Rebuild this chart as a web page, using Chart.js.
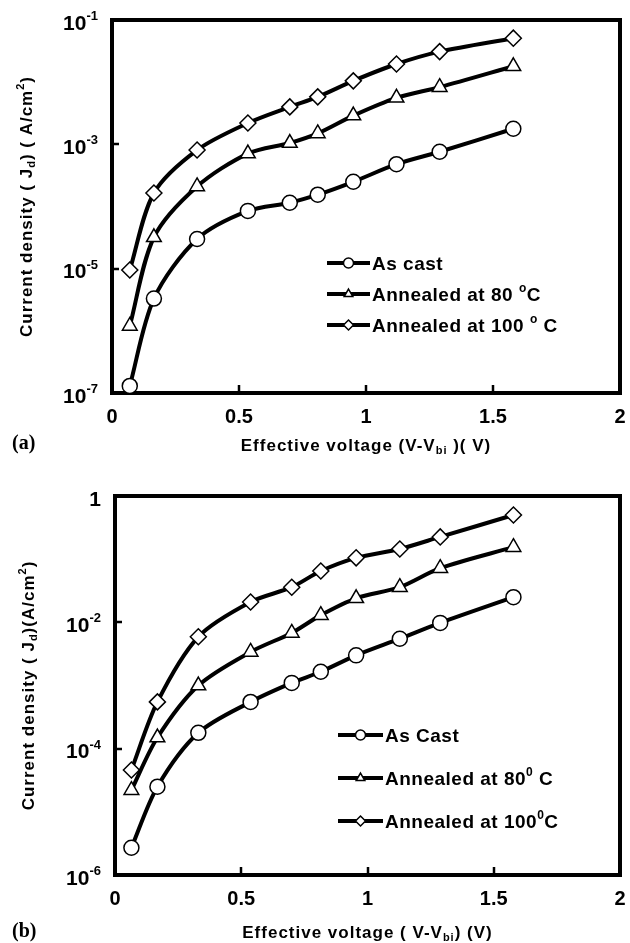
<!DOCTYPE html>
<html>
<head>
<meta charset="utf-8">
<script src="https://cdn.jsdelivr.net/npm/chart.js@4.4.0/dist/chart.umd.min.js"></script>
<style>
  body { margin: 0; background: #fff; }
  .panel { position: relative; width: 630px; }
</style>
</head>
<body>
<div class="panel" style="height:470px"><canvas id="chartA"></canvas></div>
<div class="panel" style="height:473px"><canvas id="chartB"></canvas></div>
<script>
// ---- data ----
const xTicks = [0, 0.5, 1, 1.5, 2];

// (a)
const voltageA = [0.07, 0.165, 0.335, 0.535, 0.70, 0.81, 0.95, 1.12, 1.29, 1.58];
const asCastA  = [1.3e-7, 3.3e-6, 3.0e-5, 8.5e-5, 1.15e-4, 1.55e-4, 2.5e-4, 4.8e-4, 7.6e-4, 1.78e-3];
const ann80A   = [1.2e-6, 3.2e-5, 2.1e-4, 7.1e-4, 1.05e-3, 1.5e-3, 2.9e-3, 5.6e-3, 8.3e-3, 1.8e-2];
const ann100A  = [9.5e-6, 1.65e-4, 8.1e-4, 2.2e-3, 4.0e-3, 5.8e-3, 1.05e-2, 1.96e-2, 3.1e-2, 5.1e-2];
const yTicksA  = [1e-7, 1e-5, 1e-3, 1e-1];
const yLabelsA = ['10^{-7}', '10^{-5}', '10^{-3}', '10^{-1}'];
const namesA   = ['As cast', 'Annealed at 80 ^{o}C', 'Annealed at 100 ^{o} C'];

// (b)
const voltageB = [0.065, 0.168, 0.33, 0.537, 0.70, 0.815, 0.955, 1.128, 1.288, 1.578];
const asCastB  = [2.7e-6, 2.5e-5, 1.78e-4, 5.5e-4, 1.1e-3, 1.65e-3, 3.0e-3, 5.5e-3, 9.8e-3, 2.5e-2];
const ann80B   = [2.2e-5, 1.5e-4, 1.0e-3, 3.4e-3, 6.8e-3, 1.3e-2, 2.4e-2, 3.6e-2, 7.2e-2, 0.155];
const ann100B  = [4.6e-5, 5.5e-4, 5.9e-3, 2.1e-2, 3.6e-2, 6.5e-2, 0.105, 0.145, 0.225, 0.50];
const yTicksB  = [1e-6, 1e-4, 1e-2, 1];
const yLabelsB = ['10^{-6}', '10^{-4}', '10^{-2}', '1'];
const namesB   = ['As Cast', 'Annealed at 80^{0} C', 'Annealed at 100^{0}C'];

const markers = ['circle', 'triangle', 'rectRot'];
const markerSize = [7.5, 8.5, 8];
const SANS = "'Liberation Sans', Arial, sans-serif";

// draws text with ^{sup} and _{sub} pieces
function richParts(str) {
    return str.split(/(\^\{[^}]*\}|_\{[^}]*\})/).filter(s => s.length).map(s => {
        if (s.startsWith('^{')) return { t: s.slice(2, -1), kind: 'sup' };
        if (s.startsWith('_{')) return { t: s.slice(2, -1), kind: 'sub' };
        return { t: s, kind: 'n' };
    });
}

function drawRich(ctx, str, x, y, o) {
    const size = o.size, fam = o.family || SANS;
    const small = o.small || 0.65;
    const parts = richParts(str);
    ctx.save();
    if ('letterSpacing' in ctx) ctx.letterSpacing = (o.spacing || 0) + 'px';
    ctx.translate(x, y);
    if (o.rotate) ctx.rotate(-Math.PI / 2);
    ctx.fillStyle = '#000';
    ctx.textBaseline = 'alphabetic';
    ctx.textAlign = 'left';
    let w = 0;
    parts.forEach(p => {
        p.size = p.kind == 'n' ? size : Math.round(size * small);
        p.dy = p.kind == 'sup' ? -size * 0.45 : (p.kind == 'sub' ? size * 0.18 : 0);
        ctx.font = 'bold ' + p.size + 'px ' + fam;
        p.w = ctx.measureText(p.t).width;
        w += p.w;
    });
    let cx = o.align == 'center' ? -w / 2 : (o.align == 'right' ? -w : 0);
    const base = size * 0.36;
    parts.forEach(p => {
        ctx.font = 'bold ' + p.size + 'px ' + fam;
        ctx.fillText(p.t, cx, base + p.dy);
        cx += p.w;
    });
    ctx.restore();
}

function makeDeco(cfg) {
    return {
        id: 'deco',
        beforeDatasetsDraw(chart) {
            const a = chart.chartArea, ctx = chart.ctx;
            const xs = chart.scales.x, ys = chart.scales.y;
            ctx.save();
            ctx.strokeStyle = '#000';
            ctx.lineWidth = 4;
            ctx.strokeRect(a.left, a.top, a.right - a.left, a.bottom - a.top);
            // inward tick marks
            ctx.lineWidth = 2.5;
            ctx.beginPath();
            xTicks.slice(1, -1).forEach(v => {
                const px = Math.round(xs.getPixelForValue(v));
                ctx.moveTo(px, a.bottom);
                ctx.lineTo(px, a.bottom - 8);
            });
            cfg.yTicks.slice(1, -1).forEach(v => {
                const py = Math.round(ys.getPixelForValue(v));
                ctx.moveTo(a.left, py);
                ctx.lineTo(a.left + 7, py);
            });
            ctx.stroke();
            ctx.restore();
        },
        afterDatasetsDraw(chart) {
            const ctx = chart.ctx, a = chart.chartArea;
            const ys = chart.scales.y;
            // y tick labels
            cfg.yTicks.forEach((v, i) => {
                drawRich(ctx, cfg.yLabels[i], a.left - 14, ys.getPixelForValue(v) + 2, { size: 21, small: 0.6, align: 'right' });
            });
            // axis titles
            drawRich(ctx, cfg.xTitle, (a.left + a.right) / 2, cfg.xTitleY, { size: 17, align: 'center', spacing: 1 });
            drawRich(ctx, cfg.yTitle, cfg.yTitleX, (a.top + a.bottom) / 2, { size: 17, align: 'center', rotate: true, spacing: 1 });
            // panel tag
            drawRich(ctx, cfg.tag, 12, cfg.tagY, { size: 20, family: "'Liberation Serif', 'Times New Roman', serif" });
            // legend
            chart.data.datasets.forEach((ds, i) => {
                const y = cfg.legY + i * cfg.legGap;
                ctx.save();
                ctx.strokeStyle = '#000';
                ctx.lineWidth = 4;
                ctx.beginPath();
                ctx.moveTo(cfg.legX, y);
                ctx.lineTo(cfg.legX + cfg.legLen, y);
                ctx.stroke();
                ctx.fillStyle = '#fff';
                ctx.lineWidth = 1.5;
                Chart.helpers.drawPoint(ctx, { pointStyle: ds.pointStyle, rotation: 0, radius: 5, borderWidth: 1.5 },
                    cfg.legX + cfg.legLen / 2, y);
                ctx.restore();
                drawRich(ctx, cfg.names[i], cfg.legX + cfg.legLen + 2, y, { size: 19, spacing: 0.5 });
            });
        }
    };
}

function makeChart(id, cfg) {
    const series = [cfg.s1, cfg.s2, cfg.s3];
    const datasets = series.map((vals, k) => ({
        label: cfg.names[k].replace(/[\^_]\{([^}]*)\}/g, '$1'),
        data: cfg.volts.map((v, i) => ({ x: v, y: vals[i] })),
        borderColor: '#000',
        borderWidth: 4,
        pointStyle: markers[k],
        pointRadius: markerSize[k],
        pointBackgroundColor: '#fff',
        pointBorderColor: '#000',
        pointBorderWidth: 1.5,
        tension: 0.3,
        fill: false
    }));
    return new Chart(document.getElementById(id), {
        type: 'line',
        data: { datasets: datasets },
        options: {
            responsive: true,
            maintainAspectRatio: false,
            animation: false,
            layout: { padding: { left: 0, top: cfg.top, right: cfg.right, bottom: 0 } },
            plugins: { legend: { display: false }, tooltip: { enabled: false } },
            scales: {
                x: {
                    type: 'linear', min: 0, max: 2,
                    afterBuildTicks: s => { s.ticks = xTicks.map(v => ({ value: v })) },
                    afterFit: s => { s.height = cfg.bottomH; s.paddingLeft = 0; s.paddingRight = 0 },
                    ticks: { color: '#000', padding: 4, maxRotation: 0, font: { family: SANS, weight: 'bold', size: 20 }, callback: v => String(v) },
                    grid: { display: false },
                    border: { display: false }
                },
                y: {
                    type: 'logarithmic', min: cfg.yTicks[0], max: cfg.yTicks[cfg.yTicks.length - 1],
                    afterBuildTicks: s => { s.ticks = cfg.yTicks.map(v => ({ value: v })) },
                    afterFit: s => { s.width = cfg.leftW; s.paddingTop = 0; s.paddingBottom = 0 },
                    ticks: { display: false },
                    grid: { display: false },
                    border: { display: false }
                }
            }
        },
        plugins: [makeDeco(cfg)]
    });
}

makeChart('chartA', {
    volts: voltageA, s1: asCastA, s2: ann80A, s3: ann100A, names: namesA,
    yTicks: yTicksA, yLabels: yLabelsA,
    top: 20, right: 7, leftW: 112, bottomH: 77,
    xTitle: 'Effective voltage (V-V_{bi} )( V)', xTitleY: 445,
    yTitle: 'Current density ( J_{d}) ( A/cm^{2})', yTitleX: 26,
    tag: '(a)', tagY: 442,
    legX: 327, legLen: 43, legY: 263, legGap: 31
});

makeChart('chartB', {
    volts: voltageB, s1: asCastB, s2: ann80B, s3: ann100B, names: namesB,
    yTicks: yTicksB, yLabels: yLabelsB,
    top: 26, right: 7, leftW: 115, bottomH: 68,
    xTitle: 'Effective voltage ( V-V_{bi}) (V)', xTitleY: 462,
    yTitle: 'Current density ( J_{d})(A/cm^{2})', yTitleX: 28,
    tag: '(b)', tagY: 460,
    legX: 338, legLen: 45, legY: 265, legGap: 43
});
</script>
</body>
</html>
